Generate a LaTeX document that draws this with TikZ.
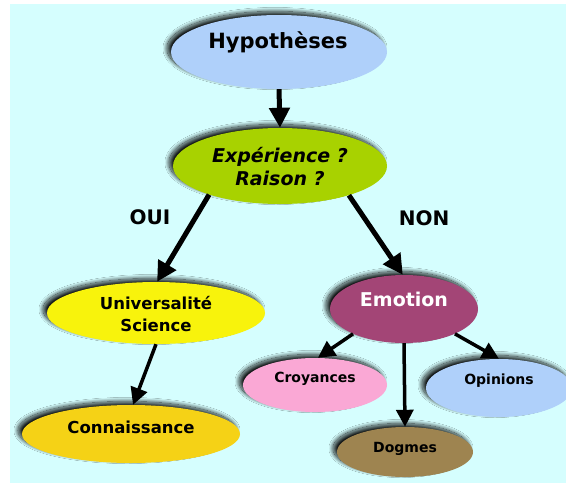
\documentclass[tikz,border=0pt]{standalone}
\usepackage{fontspec}
\setmainfont{DejaVu Sans}
\usetikzlibrary{shapes.geometric,arrows.meta,shadows.blur}

\definecolor{bgcyan}{RGB}{213,254,254}
\definecolor{hypblue}{RGB}{175,208,250}
\definecolor{expgreen}{RGB}{168,210,0}
\definecolor{univyellow}{RGB}{248,243,12}
\definecolor{conngold}{RGB}{245,210,22}
\definecolor{emoplum}{RGB}{163,69,118}
\definecolor{croypink}{RGB}{250,168,213}
\definecolor{opinblue}{RGB}{175,208,250}
\definecolor{dogbrown}{RGB}{158,132,80}

\tikzset{
  bubble/.style={ellipse, inner sep=0pt, draw=none,
    blur shadow={shadow xshift=-4pt, shadow yshift=3.5pt,
                 shadow blur radius=4pt, shadow blur steps=30,
                 shadow opacity=90}},
  lbl/.style={anchor=base, inner sep=0pt, font=\bfseries},
  bigarrow/.style={line width=5pt, -{Triangle[length=20pt,width=20pt]}},
  smallarrow/.style={line width=3.5pt, -{Triangle[length=17pt,width=17pt]}},
}

\begin{document}
\begin{tikzpicture}[x=1pt,y=-1pt]
  % page and backdrop
  \fill[white] (0,0) rectangle (566,483);
  \fill[bgcyan] (10,4) rectangle (566,483);
  \useasboundingbox (0,0) rectangle (566,483);

  % ellipses
  \node[bubble, fill=hypblue,    minimum width=216pt, minimum height=74pt] (hyp)  at (279,52)  {};
  \node[bubble, fill=expgreen,   minimum width=214pt, minimum height=76pt] (exp)  at (280,166) {};
  \node[bubble, fill=univyellow, minimum width=218pt, minimum height=62pt] (univ) at (156,313) {};
  \node[bubble, fill=conngold,   minimum width=218pt, minimum height=58pt] (conn) at (131,434) {};
  \node[bubble, fill=emoplum,    minimum width=148pt, minimum height=68pt] (emo)  at (404,309) {};
  \node[bubble, fill=croypink,   minimum width=144pt, minimum height=54pt] (croy) at (315,385) {};
  \node[bubble, fill=opinblue,   minimum width=146pt, minimum height=58pt] (opin) at (499,388) {};
  \node[bubble, fill=dogbrown,   minimum width=136pt, minimum height=50pt] (dog)  at (405,452) {};

  % labels (two-line labels are anchored on the baseline of their last line)
  \node[lbl, font=\bfseries\fontsize{21}{25}\selectfont] (thyp) at (278,48) {Hypothèses};
  \node[lbl, align=center, font=\bfseries\itshape\fontsize{19}{23}\selectfont] (texp) at (280,185) {Expérience ?\\Raison ?};
  \node[lbl, align=center, font=\bfseries\fontsize{16.5}{22}\selectfont] (tuniv) at (156,331) {Universalité\\Science};
  \node[lbl, font=\bfseries\fontsize{16.5}{20}\selectfont] (tconn) at (131,433) {Connaissance};
  \node[lbl, text=white, font=\bfseries\fontsize{19}{23}\selectfont] (temo) at (404,306) {Emotion};
  \node[lbl, font=\bfseries\fontsize{14}{17}\selectfont] (tcroy) at (315,382) {Croyances};
  \node[lbl, font=\bfseries\fontsize{14}{17}\selectfont] (topin) at (499,384) {Opinions};
  \node[lbl, font=\bfseries\fontsize{14}{17}\selectfont] (tdog) at (405,452) {Dogmes};
  \node[lbl, font=\bfseries\fontsize{20}{24}\selectfont] (oui) at (150,224) {OUI};
  \node[lbl, font=\bfseries\fontsize{20}{24}\selectfont] (non) at (424,225) {NON};

  % connectors
  \draw[bigarrow] (hyp.south) -- (exp.north);
  \draw[bigarrow] (exp.202) -- (univ.88);
  \draw[bigarrow] (exp.337) -- (emo.92);
  \draw[smallarrow] (univ.south) -- (conn.86);
  \draw[smallarrow] (emo.206) -- (croy.84);
  \draw[smallarrow] (emo.south) -- (dog.north);
  \draw[smallarrow] (emo.334) -- (opin.north);
\end{tikzpicture}
\end{document}
